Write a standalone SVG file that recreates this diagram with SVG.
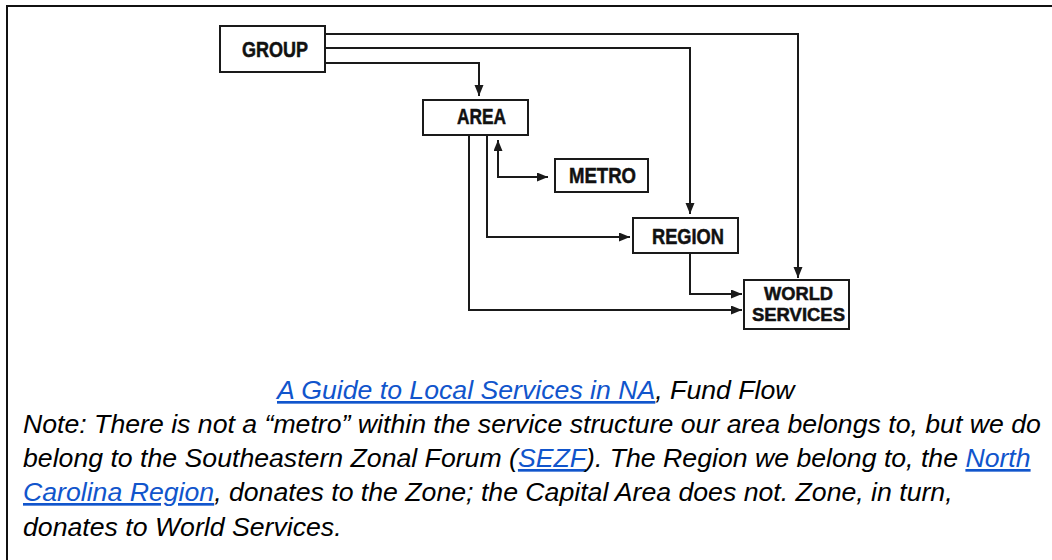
<svg xmlns="http://www.w3.org/2000/svg" width="1052" height="560" viewBox="0 0 1052 560">
  <style>
    .box { fill: #ffffff; stroke: #1a1a1a; stroke-width: 2; }
    .lbl { font-family: "Liberation Sans Narrow", "Liberation Sans", Arial, sans-serif; font-weight: bold; font-size: 22px; fill: #111111; stroke: #111111; stroke-width: 0.5; }
    .lbl2 { font-size: 19px; }
    .conn { fill: none; stroke: #1a1a1a; stroke-width: 2; }
    .txt { font-family: "Liberation Sans", Arial, sans-serif; font-style: italic; font-size: 26.67px; fill: #000000; }
    .link { fill: #1155cc; text-decoration: underline; }
  </style>
  <defs>
    <marker id="arr" markerUnits="userSpaceOnUse" markerWidth="12" markerHeight="10" refX="11" refY="4.5" orient="auto-start-reverse">
      <path d="M0,0 L11,4.5 L0,9 z" fill="#1a1a1a"/>
    </marker>
  </defs>
  <rect x="0" y="0" width="1052" height="560" fill="#ffffff"/>
  <rect id="frame" x="7" y="6" width="1100" height="600" fill="none" stroke="#111111" stroke-width="2"/>

  <g id="connectors">
    <path class="conn" d="M325,34 H798 V278" marker-end="url(#arr)"/>
    <path class="conn" d="M325,48 H690 V214" marker-end="url(#arr)"/>
    <path class="conn" d="M325,63 H479 V96" marker-end="url(#arr)"/>
    <path class="conn" d="M469,135 V310 H742" marker-end="url(#arr)"/>
    <path class="conn" d="M487,135 V237 H630" marker-end="url(#arr)"/>
    <path class="conn" d="M498,140 V177 H548" marker-start="url(#arr)" marker-end="url(#arr)"/>
    <path class="conn" d="M690,253 V294 H742" marker-end="url(#arr)"/>
  </g>

  <g id="group">
    <rect class="box" x="220" y="26" width="105" height="46"/>
    <text class="lbl" x="242" y="57" textLength="66" lengthAdjust="spacingAndGlyphs">GROUP</text>
  </g>
  <g id="area">
    <rect class="box" x="423" y="100" width="105" height="35"/>
    <text class="lbl" x="457" y="124" textLength="49" lengthAdjust="spacingAndGlyphs">AREA</text>
  </g>
  <g id="metro">
    <rect class="box" x="555" y="159" width="93" height="33"/>
    <text class="lbl" x="569" y="183" textLength="67" lengthAdjust="spacingAndGlyphs">METRO</text>
  </g>
  <g id="region">
    <rect class="box" x="633" y="218" width="105" height="35"/>
    <text class="lbl" x="652" y="244" textLength="72" lengthAdjust="spacingAndGlyphs">REGION</text>
  </g>
  <g id="world-services">
    <rect class="box" x="744" y="280" width="105" height="49"/>
    <text class="lbl lbl2" x="764" y="300" textLength="69" lengthAdjust="spacingAndGlyphs">WORLD</text>
    <text class="lbl lbl2" x="752" y="321" textLength="93" lengthAdjust="spacingAndGlyphs">SERVICES</text>
  </g>

  <g id="caption">
    <text class="txt" x="277" y="399"><tspan class="link">A Guide to Local Services in NA</tspan>, Fund Flow</text>
    <text class="txt" x="23" y="433">Note: There is not a “metro” within the service structure our area belongs to, but we do</text>
    <text class="txt" x="23" y="467">belong to the Southeastern Zonal Forum (<tspan class="link">SEZF</tspan>). The Region we belong to, the <tspan class="link">North</tspan></text>
    <text class="txt" x="23" y="501"><tspan class="link">Carolina Region</tspan>, donates to the Zone; the Capital Area does not. Zone, in turn,</text>
    <text class="txt" x="23" y="536">donates to World Services.</text>
  </g>
</svg>
